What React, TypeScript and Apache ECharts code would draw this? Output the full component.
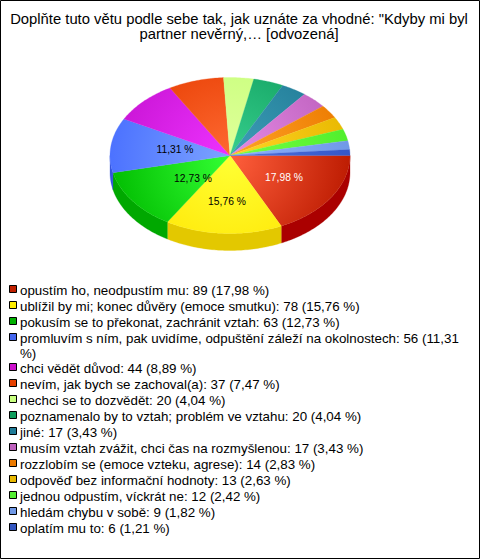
import React, { useEffect, useRef } from "react";
import * as echarts from "echarts";

const titleText = 'Doplňte tuto větu podle sebe tak, jak uznáte za vhodné: "Kdyby mi byl\npartner nevěrný,… [odvozená]';
const categories = [
  "opustím ho, neodpustím mu", "ublížil by mi; konec důvěry (emoce smutku)", "pokusím se to překonat, zachránit vztah",
  "promluvím s ním, pak uvidíme, odpuštění záleží na okolnostech", "chci vědět důvod", "nevím, jak bych se zachoval(a)",
  "nechci se to dozvědět", "poznamenalo by to vztah; problém ve vztahu", "jiné", "musím vztah zvážit, chci čas na rozmyšlenou",
  "rozzlobím se (emoce vzteku, agrese)", "odpověď bez informační hodnoty", "jednou odpustím, víckrát ne", "hledám chybu v sobě", "oplatím mu to",
];
const counts = [89, 78, 63, 56, 44, 37, 20, 20, 17, 17, 14, 13, 12, 9, 6];
const percents = ["17,98", "15,76", "12,73", "11,31", "8,89", "7,47", "4,04", "4,04", "3,43", "3,43", "2,83", "2,63", "2,42", "1,82", "1,21"];
const innerColors = ["#ff5f3c", "#ffff33", "#33ff33", "#7da4ff", "#ee33ff", "#ff6a33", "#e2ff9c", "#38d08e", "#3f9fb8", "#e68ce6", "#ffa428", "#ffd526", "#77ff44", "#8cb0ff", "#4f74e0"];
const outerColors = ["#bb1a00", "#ffe400", "#00bb00", "#4a70ff", "#c814d4", "#e63c00", "#c4ff78", "#0f9e5e", "#1f7a96", "#bd60bd", "#ec7a00", "#e8b800", "#4fee2c", "#6f98e6", "#3356c8"];
const wallColors = ["#aa0000", "#e3c800", "#00a800", "#3355dd", "#aa00aa", "#cc3300", "#aadd66", "#008844", "#116677", "#995599", "#cc6600", "#ccaa00", "#33cc22", "#5577cc", "#2244aa"];
const legendColors = ["#c02000", "#ffee00", "#00b000", "#4466ee", "#cc10cc", "#e64000", "#c8ff80", "#0f9e5e", "#1f7a96", "#bd60bd", "#ec7a00", "#e8b800", "#55ee33", "#6f98e6", "#3356c0"];
const labelOffsets: Record<number, [number, number]> = { 0: [54, 22], 1: [-3, 46], 2: [-37, 23], 3: [-55, -6] };
const labelColors: Record<number, string> = { 0: "#ffffff", 1: "#000000", 2: "#000000", 3: "#000000" };

const FONT = '"Liberation Sans", Arial, sans-serif';
const CX = 230, CY = 155.5, RX = 120, RY = 78, DEPTH = 17;
const total = counts.reduce((a, b) => a + b, 0);
const rows: number[][] = [];
counts.reduce((acc, v, i) => { rows.push([i, acc, acc + v]); return acc + v; }, 0);

function pt(a: number, dy = 0) {
  return [CX + RX * Math.cos(a), CY + dy + RY * Math.sin(a)];
}
function arc(a0: number, a1: number, dy = 0) {
  const n = Math.max(2, Math.ceil(((a1 - a0) * 180) / Math.PI));
  const out: number[][] = [];
  for (let k = 0; k <= n; k++) out.push(pt(a0 + ((a1 - a0) * k) / n, dy));
  return out;
}

function renderItem(_params: any, api: any) {
  const i = api.value(0);
  const a0 = (api.value(1) / total) * Math.PI * 2;
  const a1 = (api.value(2) / total) * Math.PI * 2;
  const children: any[] = [];
  if (a0 < Math.PI) {
    const end = Math.min(a1, Math.PI);
    children.push({
      type: "polygon",
      shape: { points: [...arc(a0, end), ...arc(a0, end, DEPTH).reverse()] },
      style: { fill: wallColors[i], stroke: wallColors[i], lineWidth: 0.3 },
    });
  }
  const fill = new echarts.graphic.RadialGradient(CX, CY + 3, 125, [
    { offset: 0, color: innerColors[i] },
    { offset: 1, color: outerColors[i] },
  ], true);
  children.push({
    type: "polygon",
    shape: { points: [[CX, CY], ...arc(a0, a1)] },
    style: { fill, stroke: fill, lineWidth: 0.3 },
  });
  const off = labelOffsets[i];
  if (off) {
    children.push({
      type: "text",
      z2: 10,
      style: {
        x: CX + off[0], y: CY + off[1], text: percents[i] + " %",
        fill: labelColors[i], font: `10.3px ${FONT}`, align: "center", verticalAlign: "middle",
      },
    });
  }
  return { type: "group", children };
}

export default function App() {
  const ref = useRef<HTMLDivElement>(null);
  useEffect(() => {
    document.body.style.margin = "0";
    const chart = echarts.init(ref.current!, undefined, { renderer: "svg" });
    const legend: any[] = [];
    let y = 289.5;
    categories.forEach((c, i) => {
      legend.push({ type: "rect", shape: { x: 9.5, y: Math.round(y) - 4.5, width: 7, height: 7 }, style: { fill: legendColors[i], stroke: "#000", lineWidth: 1 } });
      let txt = `${c}: ${counts[i]} (${percents[i]} %)`;
      let step = 16;
      if (i === 3) { txt = txt.replace("(11,31 %)", "(11,31\n%)"); step = 30; }
      legend.push({ type: "text", x: 20, y: y - 7, style: { text: txt, fill: "#000", font: `13.35px ${FONT}`, lineHeight: 15 } });
      y += step;
    });
    chart.setOption({
      animation: false,
      backgroundColor: "#fff",
      title: {
        text: titleText, left: 234, top: 6, textAlign: "center",
        textStyle: { fontFamily: FONT, fontSize: 14.8, fontWeight: "normal", color: "#000", lineHeight: 15.5 },
      },
      graphic: [
        { type: "rect", shape: { x: 0.5, y: 0.5, width: 479, height: 558 }, style: { fill: "none", stroke: "#000", lineWidth: 1 } },
        ...legend,
      ],
      series: [{ type: "custom", coordinateSystem: "none", renderItem, data: rows, silent: true }],
    });
    return () => chart.dispose();
  }, []);
  return <div ref={ref} style={{ width: 480, height: 559 }} />;
}
